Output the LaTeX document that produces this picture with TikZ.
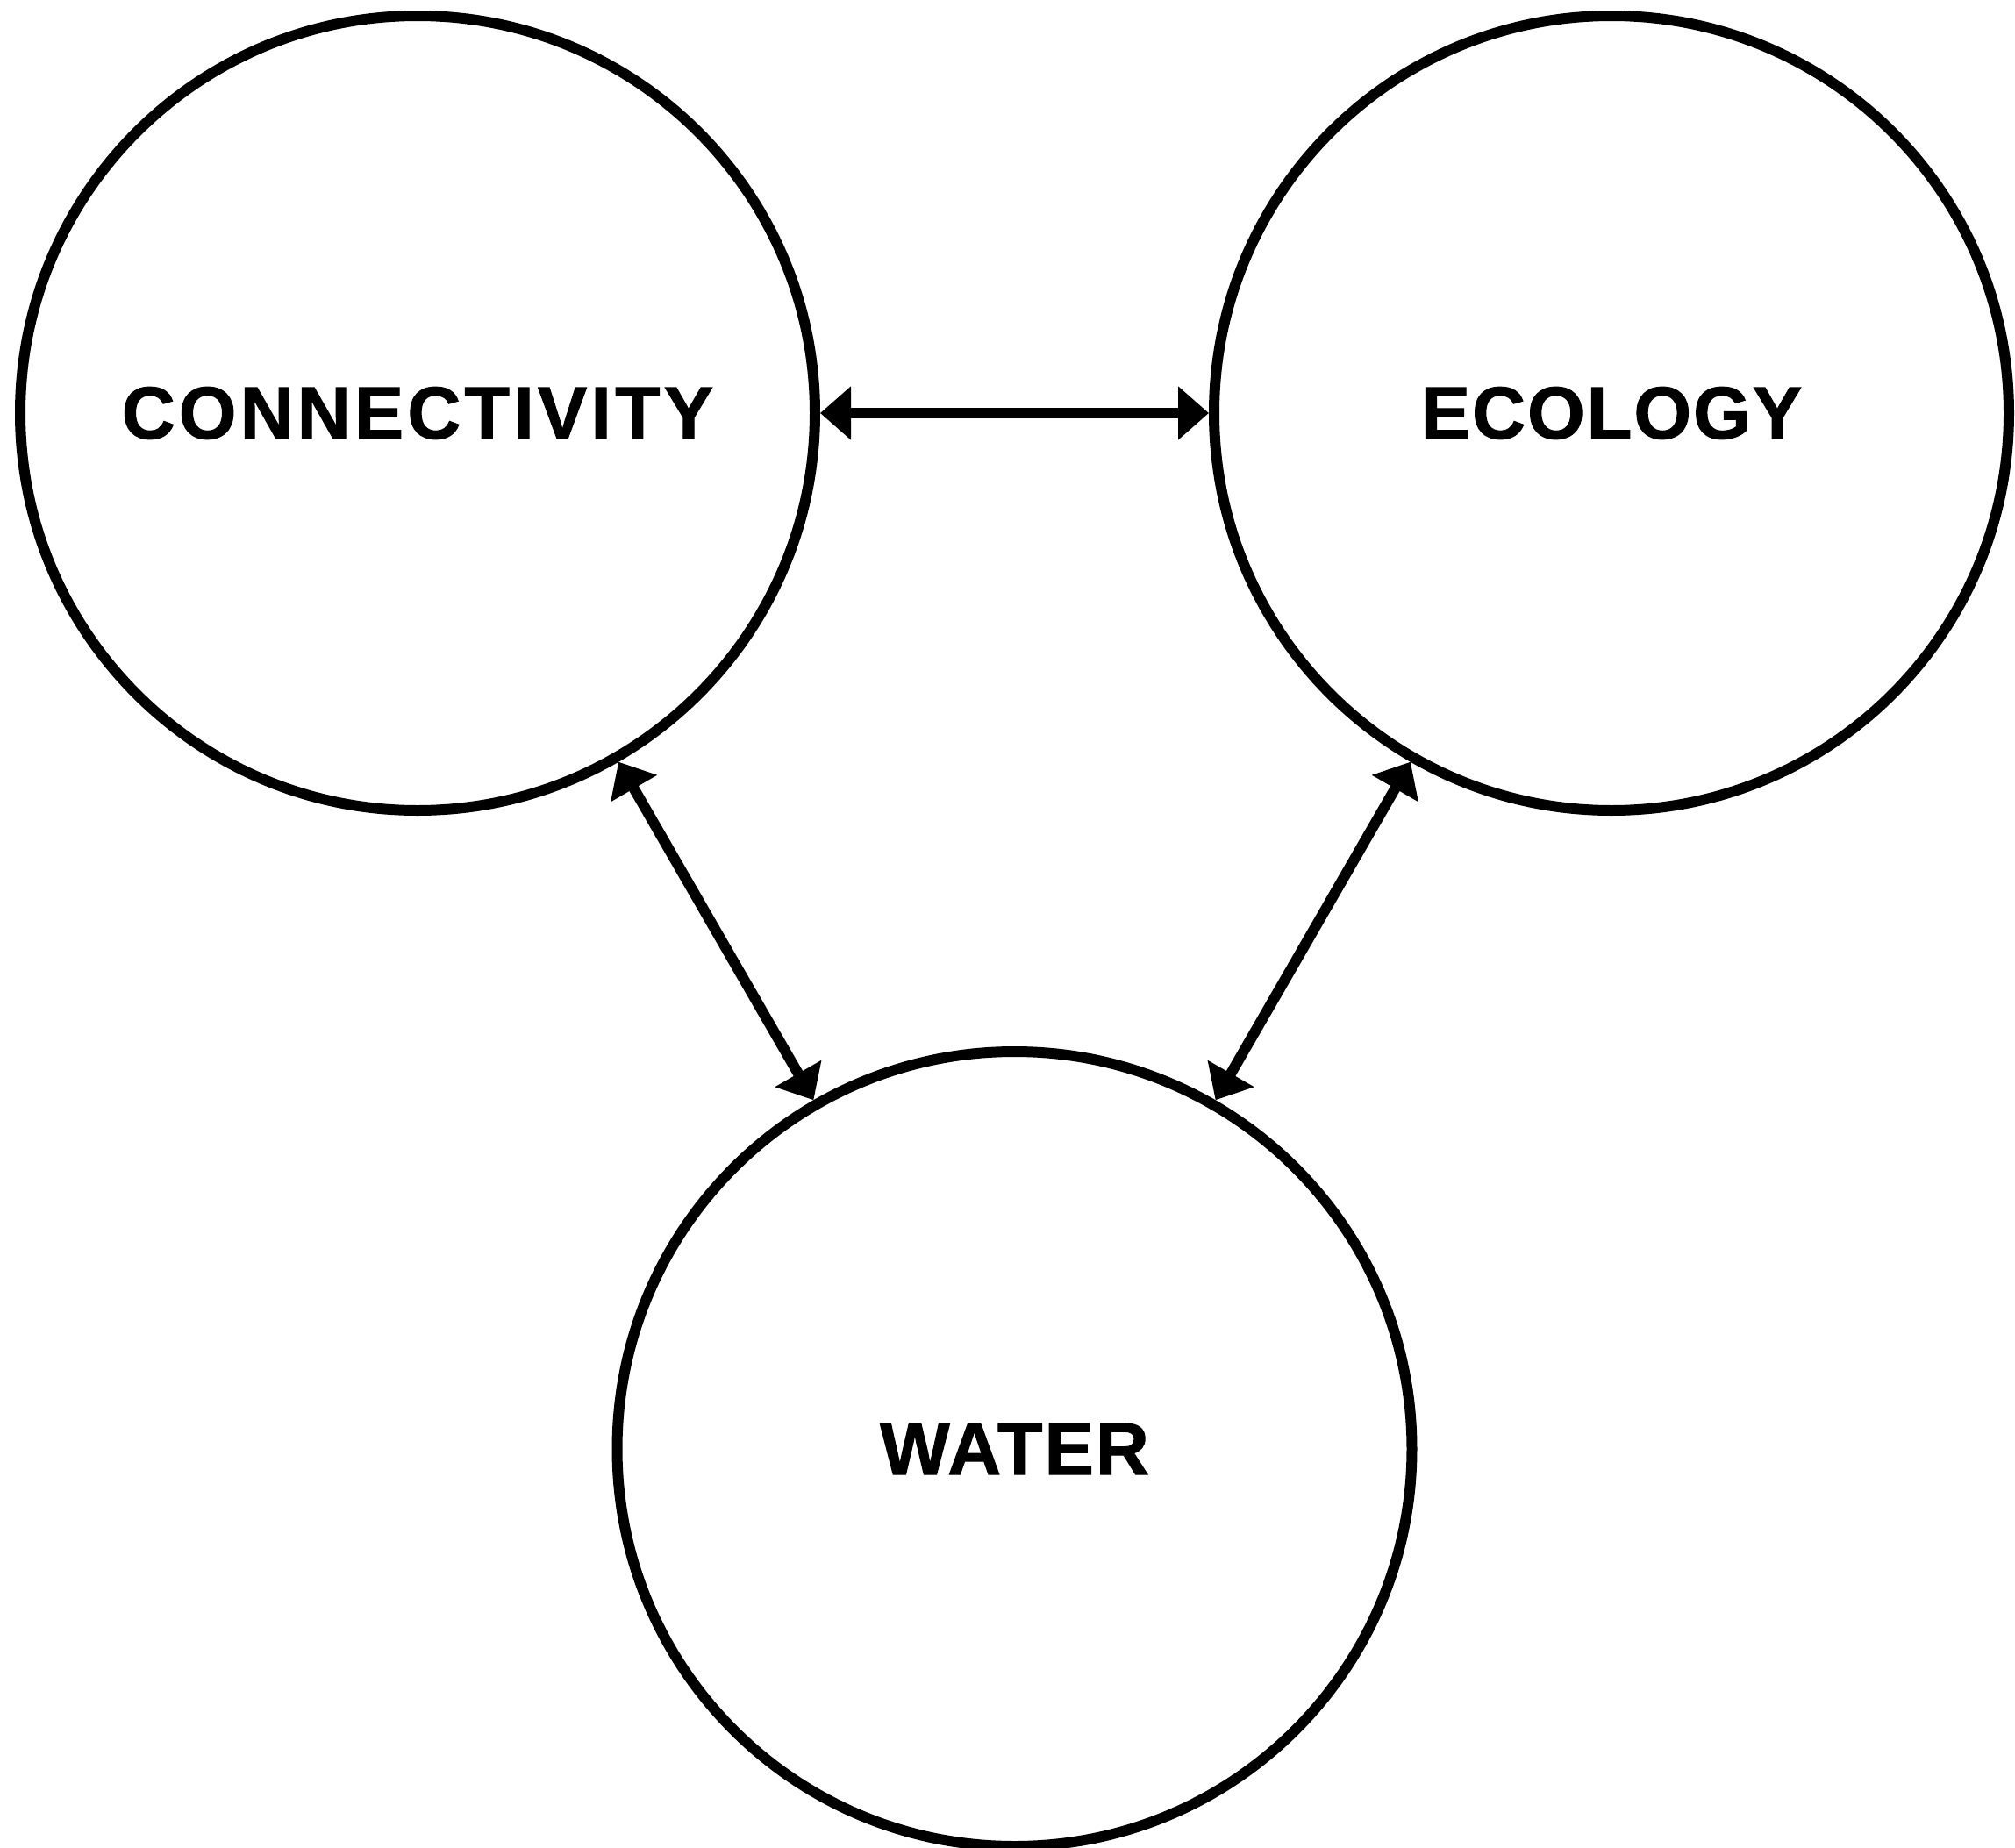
\documentclass[tikz,border=0pt]{standalone}
\usepackage{fontspec}
\newfontfamily\topicfont{Liberation Sans Bold}[FakeBold=1.2, LetterSpace=2.5]
\usepackage{tikz}
\usetikzlibrary{arrows.meta,positioning,calc}

\begin{document}
\begin{tikzpicture}[
    topic/.style={circle, draw, line width=0.12cm, minimum size=9.06cm, inner sep=0pt,
        font=\topicfont\fontsize{24}{28}\selectfont},
    link/.style={{Triangle[length=0.35cm,width=0.59cm]}-{Triangle[length=0.35cm,width=0.59cm]}, line width=0.12cm}
]
    \useasboundingbox (0,0) rectangle (22.97,-21.07);

    % Topics
    \node[topic] (conn) at (4.76,-4.71) {\addfontfeature{LetterSpace=5}CONNECTIVITY};
    \node[topic, right=4.43cm of conn] (eco) {ECOLOGY};
    \node[topic] (water) at ($(conn)!0.5!(eco)+(0,-11.81)$) {WATER};

    % Links
    \draw[link] (conn) -- (eco);
    \draw[link] (conn) -- (water);
    \draw[link] (eco) -- (water);
\end{tikzpicture}
\end{document}
